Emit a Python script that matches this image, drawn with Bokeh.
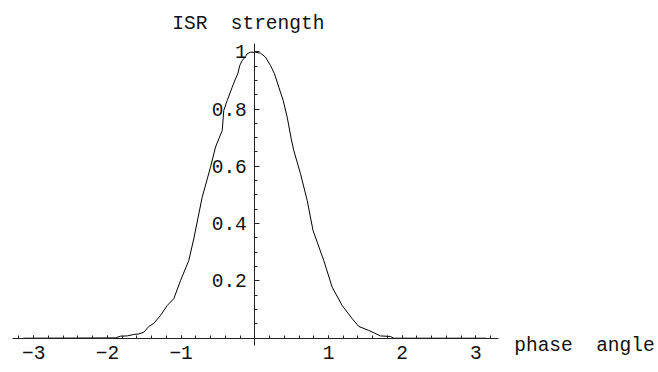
from bokeh.plotting import figure
from bokeh.models import FixedTicker, Label
from bokeh.embed import file_html
from bokeh.resources import INLINE

# ISR strength as a function of the phase angle
phase = [-3.14, -1.89, -1.822, -1.731, -1.642, -1.574, -1.506, -1.438, -1.370,
         -1.280, -1.189, -1.099, -1.008, -0.896, -0.828, -0.714, -0.601, -0.533,
         -0.488, -0.442, -0.421, -0.374, -0.307, -0.262, -0.231, -0.204, -0.171,
         -0.126, -0.103, -0.058, 0.009, 0.077, 0.145, 0.213, 0.267, 0.326, 0.385,
         0.440, 0.494, 0.529, 0.620, 0.711, 0.790, 0.936, 1.050, 1.186, 1.322,
         1.411, 1.547, 1.706, 1.842, 1.886, 3.14]
strength = [0.0, 0.001, 0.007, 0.008, 0.013, 0.015, 0.021, 0.041, 0.052,
            0.079, 0.114, 0.138, 0.201, 0.271, 0.347, 0.492, 0.597, 0.667,
            0.696, 0.725, 0.795, 0.830, 0.876, 0.905, 0.923, 0.952, 0.969,
            0.983, 0.993, 0.998, 0.998, 0.995, 0.981, 0.952, 0.923, 0.876, 0.830,
            0.771, 0.696, 0.655, 0.574, 0.481, 0.376, 0.271, 0.178, 0.114, 0.068,
            0.041, 0.027, 0.008, 0.006, 0.0, 0.0]

x_ticks = [-3, -2, -1, 0, 1, 2, 3]
x_tick_labels = ["\u22123", "\u22122", "\u22121", "", "1", "2", "3"]
y_ticks = [0, 0.2, 0.4, 0.6, 0.8, 1]
y_tick_labels = ["", "0.2", "0.4", "0.6", "0.8", "1"]
# two-character gaps, kept with a no-break space so the SVG text does not collapse them
x_label = "phase\u00a0 angle"
y_label = "ISR\u00a0 strength"

FONT = "Liberation Mono"
SIZE = "19.5px"

p = figure(width=658, height=372,
           x_range=(-3.4505, 5.4776), y_range=(-0.1197, 1.1787),
           output_backend="svg", toolbar_location=None,
           min_border=0, outline_line_color=None)
p.grid.visible = False
p.background_fill_color = "white"
p.border_fill_color = "white"

# axes crossing at the origin
xa = p.xaxis[0]
ya = p.yaxis[0]
xa.fixed_location = 0
ya.fixed_location = 0
xa.bounds = (-3.29, 3.31)
ya.bounds = (-0.025, 1.03)

xa.ticker = FixedTicker(ticks=x_ticks,
                        minor_ticks=[round(-3.2 + 0.2 * i, 1) for i in range(33)])
ya.ticker = FixedTicker(ticks=y_ticks,
                        minor_ticks=[round(0.05 * i, 2) for i in range(21)])
xa.major_label_overrides = dict(zip(x_ticks, x_tick_labels))
ya.major_label_overrides = dict(zip(y_ticks, y_tick_labels))

for ax in (xa, ya):
    ax.axis_line_color = "#222222"
    ax.axis_line_width = 1
    ax.major_tick_line_color = "#222222"
    ax.minor_tick_line_color = "#222222"
    ax.major_tick_out = 0
    ax.minor_tick_out = 0
    ax.major_label_text_font = FONT
    ax.major_label_text_font_size = SIZE
    ax.major_label_text_color = "#111111"

xa.major_tick_in = 3
xa.minor_tick_in = 3
xa.major_label_standoff = 8
ya.major_tick_in = 5
ya.minor_tick_in = 3
ya.major_label_standoff = 8

p.line(phase, strength, line_color="black", line_width=1)

p.add_layout(Label(x=3.52, y=-0.0255, text=x_label, text_font=FONT,
                   text_font_size=SIZE, text_color="#111111",
                   text_baseline="alphabetic", text_align="left"))
p.add_layout(Label(x=-1.12, y=1.0975, text=y_label, text_font=FONT,
                   text_font_size=SIZE, text_color="#111111",
                   text_baseline="alphabetic", text_align="left"))

open("out.html", "w").write(file_html(p, INLINE))
